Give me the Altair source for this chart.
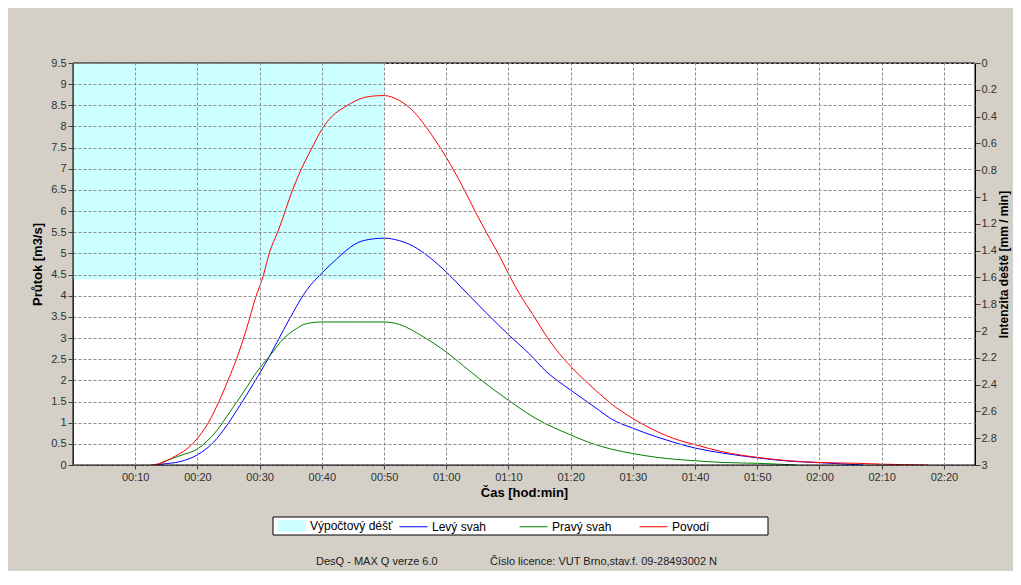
import altair as alt
import pandas as pd

# ---- data ----
series_names = ["Levý svah", "Pravý svah", "Povodí"]
series_colors = ["#0000ff", "#008000", "#ff0000"]

t_povodi = [12.5, 14.3, 16.1, 19.4, 21.8, 23.4, 25.0, 26.3, 27.9, 29.3, 30.6, 31.6, 32.9, 33.7,
            34.8, 36.7, 38.3, 40.0, 41.2, 43.9, 46.7, 48.3, 50.0, 52.5, 54.7, 56.8, 58.4, 60.0,
            62.7, 64.8, 67.0, 68.6, 70.0, 72.3, 73.9, 76.0, 78.2, 80.0, 82.5, 84.6, 86.4, 90.0,
            93.9, 96.5, 100.0, 104.5, 110.0, 115.2, 120.0, 126.0, 130.0, 137.4]
q_povodi = [0.0, 0.05, 0.18, 0.53, 1.01, 1.48, 2.03, 2.51, 3.22, 3.93, 4.48, 5.03, 5.5, 5.82,
            6.30, 6.99, 7.46, 7.93, 8.17, 8.48, 8.68, 8.72, 8.73, 8.61, 8.36, 7.98, 7.64, 7.27,
            6.56, 5.95, 5.35, 4.93, 4.52, 3.92, 3.56, 3.07, 2.63, 2.33, 1.97, 1.69, 1.46, 1.10,
            0.79, 0.63, 0.48, 0.31, 0.18, 0.10, 0.06, 0.04, 0.02, 0.0]

t_levy = [13.5, 14.3, 17.2, 20.0, 22.6, 24.7, 26.8, 29.0, 31.7, 33.8, 35.4, 37.5, 39.9, 42.4,
          44.0, 46.6, 50.0, 52.5, 54.7, 57.3, 60.0, 63.2, 66.4, 70.0, 73.4, 76.0, 80.0, 82.5,
          84.6, 86.4, 90.0, 93.9, 96.5, 100.0, 104.5, 110.0, 115.2, 120.0, 127.0]
q_levy = [0.0, 0.02, 0.08, 0.24, 0.54, 0.93, 1.40, 1.92, 2.60, 3.18, 3.61, 4.12, 4.52, 4.87,
          5.08, 5.30, 5.36, 5.30, 5.17, 4.91, 4.56, 4.08, 3.60, 3.08, 2.62, 2.22, 1.77, 1.51,
          1.29, 1.10, 0.87, 0.66, 0.54, 0.40, 0.28, 0.17, 0.09, 0.055, 0.0]

t_pravy = [13.5, 14.3, 17.2, 20.0, 23.1, 25.2, 27.4, 29.5, 31.7, 33.8, 35.9, 37.5, 40.0, 45.0,
           50.0, 52.5, 56.3, 60.0, 63.7, 67.0, 70.0, 74.4, 80.0, 83.2, 86.4, 90.0, 93.9, 100.0,
           104.5, 110.0, 116.3]
q_pravy = [0.0, 0.06, 0.22, 0.38, 0.81, 1.25, 1.72, 2.19, 2.59, 2.98, 3.22, 3.34, 3.38, 3.38,
           3.38, 3.32, 3.03, 2.67, 2.23, 1.85, 1.53, 1.10, 0.71, 0.52, 0.38, 0.27, 0.18, 0.10,
           0.06, 0.04, 0.0]

rain_name = ["Výpočtový déšť"]
rain_start = [0]
rain_end = [50]
rain_intensity = [1.614]

x_ticks = list(range(10, 141, 10))
y_ticks = [i * 0.5 for i in range(20)]
y2_ticks = [round(i * 0.2, 1) for i in range(16)]

footer_left = ["DesQ - MAX Q verze 6.0"]
footer_right = ["Číslo licence: VUT Brno,stav.f. 09-28493002 N"]

# ---- tables ----
df = pd.concat([
    pd.DataFrame({"t": t_levy, "q": q_levy, "series": series_names[0]}),
    pd.DataFrame({"t": t_pravy, "q": q_pravy, "series": series_names[1]}),
    pd.DataFrame({"t": t_povodi, "q": q_povodi, "series": series_names[2]}),
], ignore_index=True)
rain_df = pd.DataFrame({"name": rain_name, "t": rain_start, "t_end": rain_end,
                        "i0": [0] * len(rain_name), "i1": rain_intensity})

FONT = "Liberation Sans"
W, H = 902, 402

time_expr = ("(floor(datum.value/60) < 10 ? '0' : '') + floor(datum.value/60) + ':' + "
             "((datum.value % 60) < 10 ? '0' : '') + (datum.value % 60)")

x_axis = alt.Axis(values=x_ticks, labelExpr=time_expr, title="Čas [hod:min]",
                  grid=True, gridColor="#8c8c8c", gridDash=[3, 2], gridOpacity=1,
                  domain=True, domainColor="#404040", domainDash=[2, 1],
                  tickColor="#404040", tickSize=4, labelPadding=2,
                  labelColor="#303030", labelFontSize=11, labelFont=FONT,
                  titleFont=FONT, titleFontSize=13, titleFontWeight="bold",
                  titleColor="black", titlePadding=4, zindex=1)
x_scale = alt.Scale(domain=[0, 145], nice=False, zero=False)

rain = alt.Chart(rain_df).mark_rect(color="#ccffff").encode(
    x=alt.X("t:Q", scale=x_scale, axis=x_axis),
    x2="t_end:Q",
    y=alt.Y("i0:Q", scale=alt.Scale(domain=[0, 3], reverse=True, nice=False),
            axis=alt.Axis(orient="right", values=y2_ticks, format="~g", grid=False,
                          title="Intenzita deště [mm / min]", domain=False,
                          tickColor="#404040", tickSize=5, labelPadding=1,
                          labelColor="#303030", labelFontSize=11, labelFont=FONT,
                          titleFont=FONT, titleFontSize=12, titleFontWeight="bold",
                          titleColor="black", titleAngle=270, titleBaseline="top",
                          titlePadding=2)),
    y2="i1:Q",
    fill=alt.Fill("name:N", scale=alt.Scale(domain=rain_name, range=["#ccffff"]),
                  legend=alt.Legend(orient="none", legendX=205, legendY=449, title=None,
                                    symbolType="M-1,-0.42L1,-0.42L1,0.42L-1,0.42Z",
                                    symbolSize=784, symbolStrokeWidth=0, labelOffset=4,
                                    labelFont=FONT, labelFontSize=12, labelColor="black",
                                    padding=0)),
)

lines = alt.Chart(df).mark_line(strokeWidth=1, interpolate="monotone").encode(
    x=alt.X("t:Q", scale=x_scale, axis=x_axis),
    y=alt.Y("q:Q", scale=alt.Scale(domain=[0, 9.5], nice=False),
            axis=alt.Axis(orient="left", values=y_ticks, format="~g", title="Průtok [m3/s]",
                          grid=True, gridColor="#8c8c8c", gridDash=[3, 2], gridOpacity=1,
                          domain=True, domainColor="#404040", domainDash=[2, 1],
                          tickColor="#404040", tickSize=5, labelPadding=2,
                          labelColor="#303030", labelFontSize=11, labelFont=FONT,
                          titleFont=FONT, titleFontSize=13, titleFontWeight="bold",
                          titleColor="black", titlePadding=6, zindex=1)),
    stroke=alt.Stroke("series:N", scale=alt.Scale(domain=series_names, range=series_colors),
                      legend=alt.Legend(orient="none", legendX=326, legendY=449, title=None,
                                        direction="horizontal", columns=3, gridAlign="all",
                                        columnPadding=25, symbolType="stroke", symbolSize=784,
                                        symbolStrokeWidth=1, labelOffset=4, labelFont=FONT,
                                        labelFontSize=12, labelColor="black", padding=0)),
    detail="series:N",
)

# plot frame (top and right edges are solid black in the reference)
frame = alt.Chart(pd.DataFrame({"name": ["frame"]})).mark_rect(
    fill=None, stroke="black", strokeWidth=1
).encode(x=alt.value(0), x2=alt.value(W), y=alt.value(0), y2=alt.value(H))

legend_box = alt.Chart(pd.DataFrame({"name": ["box"]})).mark_rect(
    fill="white", stroke="black", strokeWidth=1
).encode(x=alt.value(200), x2=alt.value(695), y=alt.value(454), y2=alt.value(472))

foot1 = alt.Chart(pd.DataFrame({"txt": footer_left})).mark_text(
    align="left", baseline="middle", font=FONT, fontSize=11, color="#202020"
).encode(x=alt.value(243), y=alt.value(499), text="txt:N")

foot2 = alt.Chart(pd.DataFrame({"txt": footer_right})).mark_text(
    align="left", baseline="middle", font=FONT, fontSize=11, color="#202020"
).encode(x=alt.value(417), y=alt.value(499), text="txt:N")

chart = alt.layer(rain, lines, frame, legend_box, foot1, foot2).resolve_scale(
    y="independent", fill="independent", stroke="independent"
).properties(
    width=W, height=H,
    padding={"left": 65, "top": 55, "right": 38, "bottom": 106},
    autosize=alt.AutoSizeParams(type="none"),
    background="#d4d0c8",
).configure_view(fill="white", stroke="black", strokeWidth=1)

chart.save("out.html", embed_options={"renderer": "svg", "actions": False})
